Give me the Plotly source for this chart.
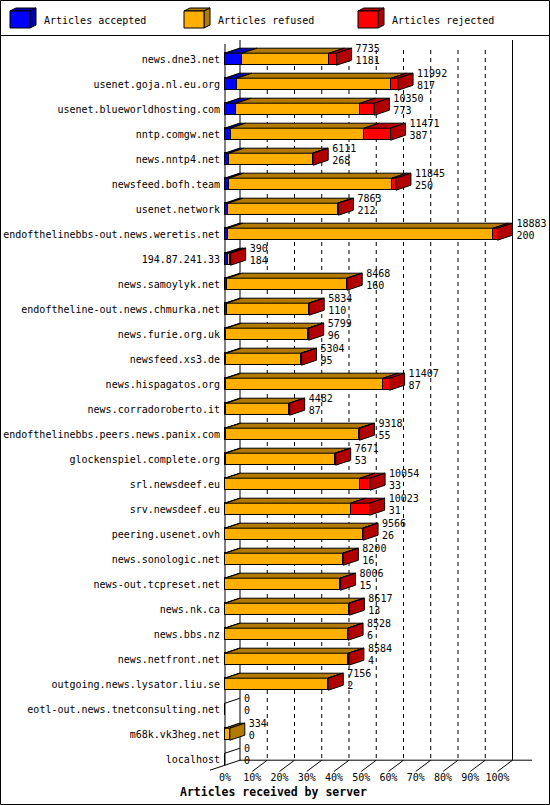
import plotly.graph_objects as go

# articles offered per peer
hosts = [
    "news.dne3.net", "usenet.goja.nl.eu.org", "usenet.blueworldhosting.com",
    "nntp.comgw.net", "news.nntp4.net", "newsfeed.bofh.team", "usenet.network",
    "endofthelinebbs-out.news.weretis.net", "194.87.241.33", "news.samoylyk.net",
    "endoftheline-out.news.chmurka.net", "news.furie.org.uk", "newsfeed.xs3.de",
    "news.hispagatos.org", "news.corradoroberto.it",
    "endofthelinebbs.peers.news.panix.com", "glockenspiel.complete.org",
    "srl.newsdeef.eu", "srv.newsdeef.eu", "peering.usenet.ovh",
    "news.sonologic.net", "news-out.tcpreset.net", "news.nk.ca", "news.bbs.nz",
    "news.netfront.net", "outgoing.news.lysator.liu.se",
    "eotl-out.news.tnetconsulting.net", "m68k.vk3heg.net", "localhost",
]
offered = [7735, 11992, 10350, 11471, 6111, 11845, 7863, 18883, 390, 8468,
           5834, 5799, 5304, 11407, 4482, 9318, 7671, 10054, 10023, 9566,
           8200, 8006, 8617, 8528, 8584, 7156, 0, 334, 0]
accepted = [1181, 817, 773, 387, 268, 250, 212, 200, 184, 160,
            110, 96, 95, 87, 87, 55, 53, 33, 31, 26,
            16, 15, 13, 6, 4, 2, 0, 0, 0]
# rejected counts are not printed, estimated from the red segment lengths
rejected = [510, 460, 970, 1825, 40, 300, 60, 300, 20, 20,
            30, 30, 30, 440, 30, 30, 30, 690, 1320, 30,
            30, 30, 30, 30, 30, 30, 0, 0, 0]
tick_pct = [0, 10, 20, 30, 40, 50, 60, 70, 80, 90, 100]

refused = [o - a - r for o, a, r in zip(offered, accepted, rejected)]

MONO = "DejaVu Sans Mono"
BLUE, ORANGE, RED = "#0000ff", "#ffaf00", "#ff0000"
DBLUE, DORANGE, DRED = "#0000b2", "#b27a00", "#b20000"

W, H = 550, 805
PLOT_L, PLOT_R, PLOT_T, PLOT_B = 208, 548, 40, 772
PX_PCT = 2.725      # px per percent on the front plane
ROW_PX = 25
X0_PX, ROW0_PX = 225, 59.2
DX = 15 / PX_PCT    # depth offset
DY = 5 / ROW_PX
HALF = 0.24

n = len(hosts)
rows = list(range(n))
top = max(offered)


def pct(v):
    return v / top * 100


def paper_x(p):
    return (p - PLOT_L) / (PLOT_R - PLOT_L)


def paper_y(p):
    return (PLOT_B - p) / (PLOT_B - PLOT_T)


series = [
    ("Articles accepted", accepted, BLUE, DBLUE),
    ("Articles refused", refused, ORANGE, DORANGE),
    ("Articles rejected", rejected, RED, DRED),
]

fig = go.Figure()

# front faces
for name, vals, col, dcol in series:
    fig.add_trace(go.Bar(
        y=rows, x=[pct(v) for v in vals], orientation="h", width=2 * HALF,
        name=name, marker=dict(color=col, line=dict(color="black", width=1)),
        showlegend=False, hoverinfo="skip",
    ))

# top faces
base = [0] * n
for name, vals, col, dcol in series:
    xs, ys = [], []
    for i in rows:
        if vals[i] > 0:
            a, b = pct(base[i]), pct(base[i] + vals[i])
            yf, yb = i - HALF, i - HALF - DY
            xs += [a, a + DX, b + DX, b, a, None]
            ys += [yf, yb, yb, yf, yf, None]
        base[i] += vals[i]
    fig.add_trace(go.Scatter(
        x=xs, y=ys, mode="lines", fill="toself", fillcolor=dcol,
        line=dict(color="black", width=1), showlegend=False, hoverinfo="skip",
    ))

# side faces, coloured like the last segment of each bar
side = {DBLUE: ([], []), DORANGE: ([], []), DRED: ([], [])}
for i in rows:
    if offered[i] <= 0:
        continue
    dcol = [s[3] for s in series if s[1][i] > 0][-1]
    xe = pct(offered[i])
    xs, ys = side[dcol]
    xs += [xe, xe + DX, xe + DX, xe, xe, None]
    ys += [i - HALF, i - HALF - DY, i + HALF - DY, i + HALF, i - HALF, None]
for dcol, (xs, ys) in side.items():
    if xs:
        fig.add_trace(go.Scatter(
            x=xs, y=ys, mode="lines", fill="toself", fillcolor=dcol,
            line=dict(color="black", width=1), showlegend=False, hoverinfo="skip",
        ))

# value labels: offered on top, accepted below
lab_x = [pct(o) + DX + 4 / PX_PCT for o in offered]
fig.add_trace(go.Scatter(
    x=lab_x, y=[i - 0.37 for i in rows], text=[str(v) for v in offered],
    mode="text", textposition="middle right", cliponaxis=False,
    textfont=dict(family=MONO, size=10, color="black"), showlegend=False, hoverinfo="skip",
))
fig.add_trace(go.Scatter(
    x=lab_x, y=[i + 0.08 for i in rows], text=[str(v) for v in accepted],
    mode="text", textposition="middle right", cliponaxis=False,
    textfont=dict(family=MONO, size=10, color="black"), showlegend=False, hoverinfo="skip",
))

# 3d frame: walls, floor and grid
y_top = (PLOT_T - ROW0_PX) / ROW_PX
floor_front = n - 1 + HALF
floor_back = floor_front - DY
shapes = []


def seg(x0, y0, x1, y1, dash="solid"):
    shapes.append(dict(type="line", xref="x", yref="y", x0=x0, y0=y0, x1=x1, y1=y1,
                       line=dict(color="black", width=1, dash=dash), layer="below"))


for p in tick_pct[1:-1]:
    seg(p + DX, (50 - ROW0_PX) / ROW_PX, p + DX, floor_back, dash="4px,4px")
seg(100 + DX, y_top, 100 + DX, floor_back)
seg(DX, y_top, DX, floor_back)
seg(0, (44 - ROW0_PX) / ROW_PX, 0, floor_front)
for i in rows:
    seg(0, i - HALF, DX, i - HALF - DY)
seg(DX, floor_back, (532 - X0_PX) / PX_PCT, floor_back)
seg(-15 / PX_PCT, floor_front + 0.2, DX, floor_back)
for p in tick_pct[1:]:
    seg(p, floor_front + 0.25, p + DX, floor_back)

# outer border and legend strip
shapes.append(dict(type="rect", xref="paper", yref="paper",
                   x0=paper_x(0.5), y0=paper_y(0.5), x1=paper_x(549.5), y1=paper_y(804.5),
                   line=dict(color="black", width=1)))
shapes.append(dict(type="line", xref="paper", yref="paper",
                   x0=paper_x(0), y0=paper_y(35.5), x1=paper_x(550), y1=paper_y(35.5),
                   line=dict(color="black", width=1)))


def poly(pts, color):
    d = "M " + " L ".join(f"{paper_x(a)},{paper_y(b)}" for a, b in pts) + " Z"
    shapes.append(dict(type="path", xref="paper", yref="paper", path=d,
                       fillcolor=color, line=dict(color="black", width=1)))


annotations = []
for k, (name, vals, col, dcol) in enumerate(series):
    x0 = 10 + 174 * k
    poly([(x0, 11), (x0 + 6, 8), (x0 + 26, 8), (x0 + 20, 11)], dcol)
    poly([(x0 + 20, 11), (x0 + 26, 8), (x0 + 26, 25), (x0 + 20, 28)], dcol)
    poly([(x0, 11), (x0 + 20, 11), (x0 + 20, 28), (x0, 28)], col)
    annotations.append(dict(
        text=name, xref="paper", yref="paper", x=paper_x(x0 + 32), y=paper_y(20.5),
        xanchor="left", yanchor="middle", showarrow=False,
        font=dict(family=MONO, size=10, color="black"),
    ))

annotations.append(dict(
    text="<b>Articles received by server</b>", xref="paper", yref="paper",
    x=paper_x(273.5), y=paper_y(792), xanchor="center", yanchor="middle",
    showarrow=False, font=dict(family=MONO, size=11.5, color="black"),
))

fig.update_layout(
    width=W, height=H,
    margin=dict(l=PLOT_L, r=W - PLOT_R, t=PLOT_T, b=H - PLOT_B, pad=0),
    paper_bgcolor="white", plot_bgcolor="white",
    barmode="stack", bargap=0,
    shapes=shapes, annotations=annotations,
    xaxis=dict(
        range=[(PLOT_L - X0_PX) / PX_PCT, (PLOT_R - X0_PX) / PX_PCT],
        tickvals=tick_pct, ticktext=[f"{p}%" for p in tick_pct],
        showgrid=False, zeroline=False, showline=False, ticks="",
        tickfont=dict(family=MONO, size=10, color="black"),
        ticklabelstandoff=-2,
    ),
    yaxis=dict(
        range=[(PLOT_B - ROW0_PX) / ROW_PX, y_top],
        tickvals=rows, ticktext=hosts,
        showgrid=False, zeroline=False, showline=False, ticks="",
        tickfont=dict(family=MONO, size=10, color="black"),
        ticklabelstandoff=-13,
    ),
    showlegend=False,
)

# the page's default body margin would shift the chart by 8px
fig.write_html("out.html", config={"displayModeBar": False},
               post_script="document.body.style.margin='0';")
